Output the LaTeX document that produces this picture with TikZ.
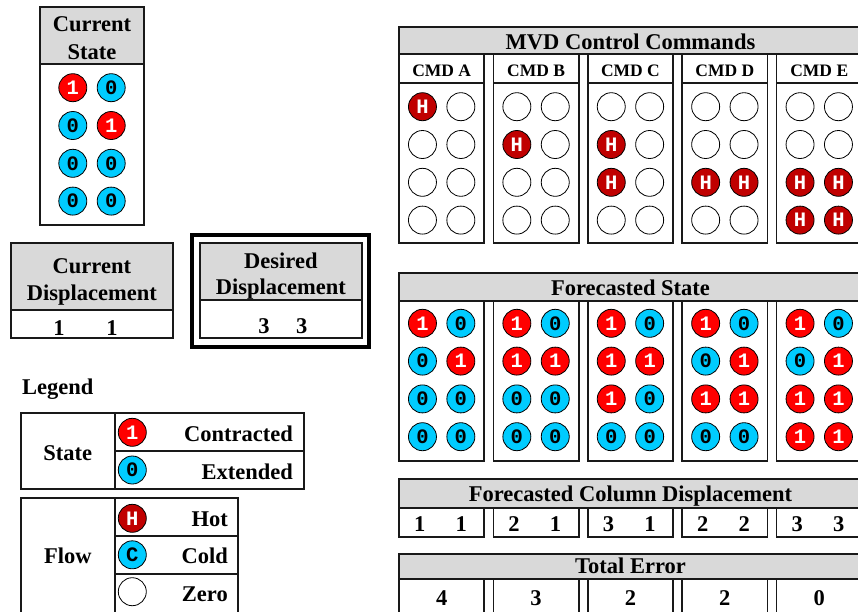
\documentclass[tikz,border=0pt]{standalone}
\usepackage{fontspec}
\setmainfont{Liberation Serif}
\newfontfamily\monof{Liberation Mono}
\definecolor{myred}{RGB}{255,0,0}
\definecolor{mycyan}{RGB}{0,204,255}
\definecolor{myhot}{RGB}{192,0,0}
\definecolor{hdrgray}{RGB}{217,217,217}
\definecolor{linec}{RGB}{25,25,25}
\tikzset{
 box/.style={draw=linec, line width=1.7pt},
 hdr/.style={draw=linec, line width=1.7pt, fill=hdrgray},
 big/.style={font=\fontsize{22.5}{27}\selectfont\bfseries, inner sep=0pt},
 cmdtxt/.style={font=\fontsize{17.5}{20}\selectfont\bfseries, inner sep=0pt},
 circ/.style={circle, draw=black, line width=0.8pt, minimum size=28pt, inner sep=0pt, font=\monof\bfseries\fontsize{20.5}{20.5}\selectfont},
 cA/.style={circ, fill=myred, text=white, /utils/exec={\def\ctext{1}}},
 cB/.style={circ, fill=mycyan, text=black, /utils/exec={\def\ctext{0}}},
 cH/.style={circ, fill=myhot, text=white, /utils/exec={\def\ctext{H}}},
 cC/.style={circ, fill=mycyan, text=black, /utils/exec={\def\ctext{C}}},
 cN/.style={circ, fill=white, /utils/exec={\def\ctext{}}},
}
\newcommand\mvdgrid[4]{%
 \foreach \st [count=\k from 0] in {#4} {
   \pgfmathtruncatemacro\rr{int(\k/2)}
   \pgfmathtruncatemacro\cc{mod(\k,2)}
   \node[\st] (#1-\rr-\cc) at ({#2+(\cc*2-1)*19.2}, {#3+\rr*37.8}) {\ctext};
 }}
\begin{document}
\begin{tikzpicture}[x=1pt,y=-1pt]
\useasboundingbox (0,0) rectangle (858,611);
\clip (0,0) rectangle (858,611);
% Current State
\draw[hdr] (40,7.3) rectangle (144,64);
\draw[box] (40,64) rectangle (144,225);
\node[big, anchor=base] (csA) at (92,31) {Current};
\node[big, anchor=base] (csB) at (92,59) {State};
\mvdgrid{cs}{92}{87.7}{cA,cB,cB,cA,cB,cB,cB,cB}
% Current Displacement
\draw[hdr] (11,243.3) rectangle (172.7,310);
\draw[box] (11,310) rectangle (172.7,338.3);
\node[big, anchor=base] (cdA) at (91.85,273.3) {Current};
\node[big, anchor=base] (cdB) at (91.85,300.5) {Displacement};
\node[big, anchor=base] (cdv1) at (59,335) {1};
\node[big, anchor=base] (cdv2) at (112,335) {1};
% Desired Displacement
\draw[draw=black, line width=4pt] (192,234.7) rectangle (368.8,347);
\draw[hdr] (200,243.3) rectangle (361.7,300);
\draw[box] (200,300) rectangle (361.7,338.3);
\node[big, anchor=base] (ddA) at (280.85,268.3) {Desired};
\node[big, anchor=base] (ddB) at (280.85,294) {Displacement};
\node[big, anchor=base] (ddv1) at (264,333) {3};
\node[big, anchor=base] (ddv2) at (301.7,333) {3};
% Legend
\node[big, anchor=base west] (leg) at (22,394) {Legend};
\draw[box] (20.7,413.3) rectangle (304.3,489);
\draw[box] (115,413.3) -- (115,489);
\draw[box] (115,451) -- (304.3,451);
\node[big, anchor=base] (lgState) at (67.85,460) {State};
\node[cA] (lg1) at (132.3,432.3) {\ctext};
\node[cB] (lg0) at (132.3,470) {\ctext};
\node[big, anchor=base east] (lgCon) at (293,441.7) {Contracted};
\node[big, anchor=base east] (lgExt) at (293,479) {Extended};
\draw[box] (20.7,498.3) rectangle (238.3,625);
\draw[box] (115,498.3) -- (115,625);
\draw[box] (115,536) -- (238.3,536);
\draw[box] (115,574) -- (238.3,574);
\node[big, anchor=base] (lgFlow) at (67.85,563.3) {Flow};
\node[cH] (lgH) at (132.3,518.3) {\ctext};
\node[cC] (lgC) at (132.3,554.8) {\ctext};
\node[cN] (lgN) at (132.3,591.7) {\ctext};
\node[big, anchor=base east] (lgHot) at (228,526) {Hot};
\node[big, anchor=base east] (lgCold) at (228,563.3) {Cold};
\node[big, anchor=base east] (lgZero) at (228,601.7) {Zero};
% Headers
\draw[hdr] (399,26.7) rectangle (862,54.3);
\node[big, anchor=base] (mvdH) at (630.5,49.3) {MVD Control Commands};
\draw[hdr] (399,272.7) rectangle (862,300.7);
\node[big, anchor=base] (fsH) at (630.5,295) {Forecasted State};
\draw[hdr] (399,479.3) rectangle (862,507.7);
\node[big, anchor=base] (fcdH) at (630.5,501.7) {Forecasted Column Displacement};
\draw[hdr] (399,554.3) rectangle (862,579);
\node[big, anchor=base] (teH) at (630.5,573.3) {Total Error};
% Columns
\foreach \i/\lab/\va/\vb/\te in {0/A/1/1/4,1/B/2/1/3,2/C/3/1/2,3/D/2/2/2,4/E/3/3/0} {
  \pgfmathsetmacro\L{399+94.4*\i}
  \pgfmathsetmacro\M{441.65+94.4*\i}
  \draw[box] (\L,54.3) rectangle ++(85.3,189);
  \draw[box] (\L,83.3) -- ++(85.3,0);
  \node[cmdtxt, anchor=base] (cmd\lab) at (\M,76.7) {CMD \lab};
  \draw[box] (\L,300.7) rectangle ++(85.3,160.3);
  \draw[box] (\L,507.7) rectangle ++(85.3,29);
  \node[big, anchor=base] (fcd\lab a) at (\M-22,531.7) {\va};
  \node[big, anchor=base] (fcd\lab b) at (\M+19.5,531.7) {\vb};
  \draw[box] (\L,579) rectangle ++(85.3,45);
  \node[big, anchor=base] (te\lab) at (\M,605) {\te};
}
% Command grids
\mvdgrid{cmdA}{441.65}{106.7}{cH,cN,cN,cN,cN,cN,cN,cN}
\mvdgrid{cmdB}{536.05}{106.7}{cN,cN,cH,cN,cN,cN,cN,cN}
\mvdgrid{cmdC}{630.45}{106.7}{cN,cN,cH,cN,cH,cN,cN,cN}
\mvdgrid{cmdD}{724.85}{106.7}{cN,cN,cN,cN,cH,cH,cN,cN}
\mvdgrid{cmdE}{819.25}{106.7}{cN,cN,cN,cN,cH,cH,cH,cH}
% Forecast grids
\mvdgrid{fsA}{441.65}{323.3}{cA,cB,cB,cA,cB,cB,cB,cB}
\mvdgrid{fsB}{536.05}{323.3}{cA,cB,cA,cA,cB,cB,cB,cB}
\mvdgrid{fsC}{630.45}{323.3}{cA,cB,cA,cA,cA,cB,cB,cB}
\mvdgrid{fsD}{724.85}{323.3}{cA,cB,cB,cA,cA,cA,cB,cB}
\mvdgrid{fsE}{819.25}{323.3}{cA,cB,cB,cA,cA,cA,cA,cA}
\end{tikzpicture}
\end{document}
